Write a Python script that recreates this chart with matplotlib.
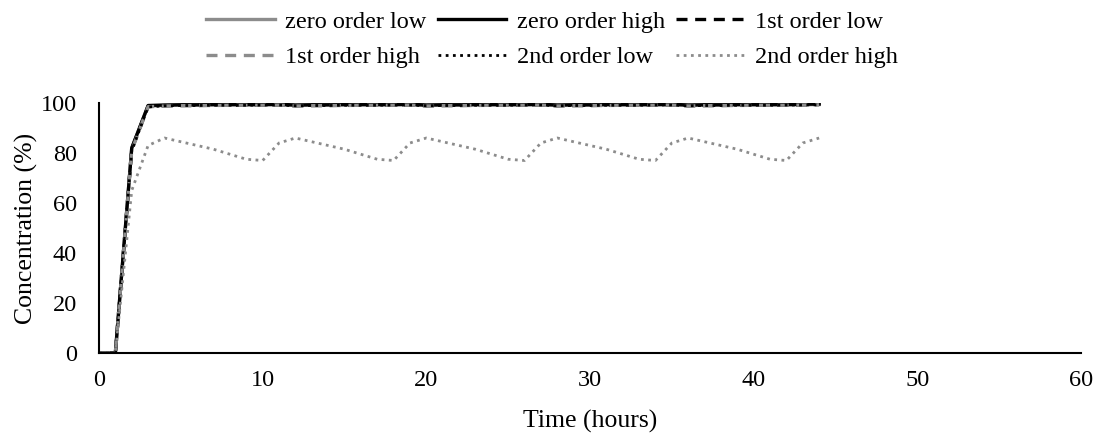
import matplotlib.pyplot as plt

plt.rcParams['font.family'] = ['Liberation Serif', 'DejaVu Serif']

hours = list(range(0, 45))

# near-saturated series (all lie on top of each other)
zero_low = [0, 0, 82, 98.8] + [99.0, 99.1, 99.1, 99.2, 99.2, 99.2, 99.2, 99.3] * 5 + [99.4]
zero_high = [0, 0, 82, 99.0] + [99.2, 99.3, 99.3, 99.4, 99.4, 99.4, 99.4, 99.5] * 5 + [99.6]
first_low = [0, 0, 81.5, 98.6] + [98.9, 99.0, 99.0, 99.1, 99.1, 99.1, 99.2, 99.3] * 5 + [99.4]
first_high = [0, 0, 81, 98.5] + [98.8, 98.9, 99.0, 99.0, 99.1, 99.1, 99.1, 99.2] * 5 + [99.3]
second_low = [0, 0, 81, 98.4] + [98.9, 99.0, 99.0, 99.1, 99.1, 99.1, 99.2, 99.2] * 5 + [99.3]
# 2nd order high: dose every 8 h, peaks ~86, troughs ~77
second_high = [0, 0, 65, 83] + [86, 84.5, 83, 81.5, 79.5, 77.5, 77, 84] * 5 + [86]

series = {
    'zero order low': zero_low,
    'zero order high': zero_high,
    '1st order low': first_low,
    '1st order high': first_high,
    '2nd order low': second_low,
    '2nd order high': second_high,
}
dash = (0, (3.3, 2.3))
dot = (0, (1, 1.6))
styles = {
    'zero order low': dict(color='#8c8c8c', ls='-', lw=2.4),
    'zero order high': dict(color='black', ls='-', lw=2.4),
    '1st order low': dict(color='black', ls=dash, lw=2.4),
    '1st order high': dict(color='#8c8c8c', ls=dash, lw=2.4),
    '2nd order low': dict(color='black', ls=dot, lw=2.0),
    '2nd order high': dict(color='#8c8c8c', ls=dot, lw=2.0),
}

fig = plt.figure(figsize=(11.04, 4.4), dpi=100)
ax = fig.add_axes([99 / 1104, 1 - 353 / 440, (1081 - 99) / 1104, 250 / 440])

handles = {}
for name, vals in series.items():
    h, = ax.plot(hours, vals, label=name, **styles[name])
    handles[name] = h

ax.set_xlim(0, 60)
ax.set_ylim(0, 100)
ax.set_xticks(range(0, 61, 10))
ax.set_yticks(range(0, 101, 20))
ax.tick_params(length=0, labelsize=17.5)
ax.tick_params(axis='x', pad=12)
ax.tick_params(axis='y', pad=16)
for s in ['top', 'right']:
    ax.spines[s].set_visible(False)
for s in ['left', 'bottom']:
    ax.spines[s].set_linewidth(1.5)
ax.set_xlabel('Time (hours)', fontsize=18.5, labelpad=14)
ax.set_ylabel('Concentration (%)', fontsize=18.5, labelpad=2)

order = ['zero order low', '1st order high', 'zero order high',
         '2nd order low', '1st order low', '2nd order high']
fig.legend([handles[n] for n in order], order, loc='upper center',
           bbox_to_anchor=(0.5, 1.025), ncol=3, frameon=False, fontsize=17.5,
           handlelength=2.8, columnspacing=0.45, handletextpad=0.45, labelspacing=0.55)

fig.savefig('out.png', dpi=100)
